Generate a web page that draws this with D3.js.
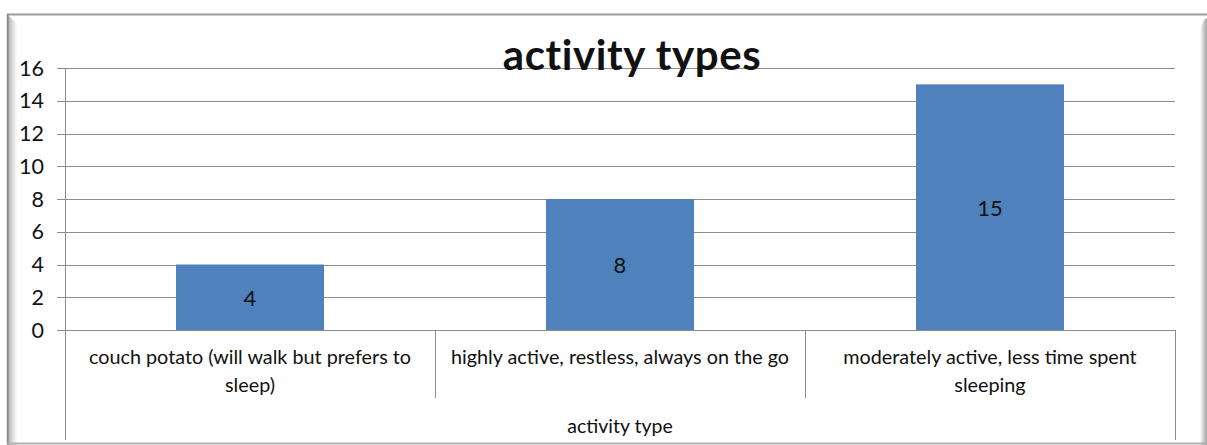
<!DOCTYPE html>
<html>
<head>
<meta charset="utf-8">
<script src="https://cdn.jsdelivr.net/npm/d3@7"></script>
<style>
  html, body { margin: 0; padding: 0; background: #fff; }
  svg { display: block; }
  text { font-family: Lato, "Open Sans", sans-serif; fill: #111; }
</style>
</head>
<body>
<svg id="chart" width="1207" height="445"></svg>
<script>
// Chart content
const chartTitle = "activity types";
const axisTitle = "activity type";
const categories = [
  ["couch potato (will walk but prefers to", "sleep)"],
  ["highly active, restless, always on the go"],
  ["moderately active, less time spent", "sleeping"]
];
const counts = [4, 8, 15];
const yTicks = [0, 2, 4, 6, 8, 10, 12, 14, 16];

const W = 1207, H = 445;
const svg = d3.select("#chart");

// Frame with a soft shadow on the left and right edges
const defs = svg.append("defs");
const gl = defs.append("linearGradient").attr("id", "shadeL").attr("x1", 0).attr("x2", 1);
gl.append("stop").attr("offset", 0).attr("stop-color", "#9a9a9a");
gl.append("stop").attr("offset", 0.25).attr("stop-color", "#c8c8c8");
gl.append("stop").attr("offset", 1).attr("stop-color", "#ffffff");
const gr = defs.append("linearGradient").attr("id", "shadeR").attr("x1", 0).attr("x2", 1);
gr.append("stop").attr("offset", 0).attr("stop-color", "#ffffff");
gr.append("stop").attr("offset", 0.6).attr("stop-color", "#c4c4c4");
gr.append("stop").attr("offset", 1).attr("stop-color", "#a8a8a8");

svg.append("path")
  .attr("d", "M8,15 L17,24 L17,445 L8,445 Z")
  .attr("fill", "url(#shadeL)");
svg.append("path")
  .attr("d", "M1200,30 L1204,20 L1207,18 L1207,445 L1200,445 Z")
  .attr("fill", "url(#shadeR)");
svg.append("line").attr("x1", 7).attr("x2", W).attr("y1", 14.5).attr("y2", 14.5)
  .attr("stroke", "#9a9a9a").attr("stroke-width", 2);
svg.append("line").attr("x1", 7.5).attr("x2", 7.5).attr("y1", 14).attr("y2", H)
  .attr("stroke", "#8a8a8a").attr("stroke-width", 1.5);
svg.append("line").attr("x1", 7).attr("x2", W).attr("y1", 443.5).attr("y2", 443.5)
  .attr("stroke", "#b0b0b0").attr("stroke-width", 2);

// Plot area
const plotLeft = 65, plotRight = 1175, plotTop = 68, zeroY = 330;
const x = d3.scaleBand().domain(d3.range(categories.length)).range([plotLeft, plotRight]).paddingInner(0).paddingOuter(0);
const y = d3.scaleLinear().domain([0, 16]).range([zeroY, plotTop]);
const barW = x.bandwidth() * 0.4;
const gridColor = "#8c8c8c";

// Horizontal gridlines with short tick stubs left of the axis
svg.append("g").selectAll("line").data(yTicks).join("line")
  .attr("x1", plotLeft - 8).attr("x2", plotRight)
  .attr("y1", d => Math.round(y(d)) + 0.5).attr("y2", d => Math.round(y(d)) + 0.5)
  .attr("stroke", gridColor).attr("stroke-width", 1);

// Tick labels
svg.append("g").selectAll("text").data(yTicks).join("text")
  .attr("x", 44).attr("y", d => y(d))
  .attr("dy", "0.36em")
  .attr("text-anchor", "end")
  .attr("font-size", 21.5)
  .text(d => d);

// Bars
svg.append("g").selectAll("rect").data(counts).join("rect")
  .attr("x", (d, i) => x(i) + (x.bandwidth() - barW) / 2)
  .attr("y", d => y(d))
  .attr("width", barW)
  .attr("height", d => zeroY - y(d))
  .attr("fill", "#4f81bd");

// Value labels centred inside each bar
svg.append("g").selectAll("text").data(counts).join("text")
  .attr("x", (d, i) => x(i) + x.bandwidth() / 2)
  .attr("y", d => (y(d) + zeroY) / 2)
  .attr("dy", "0.4em")
  .attr("text-anchor", "middle")
  .attr("font-size", 22)
  .text(d => d);

// Vertical axis line and the category table below zero
svg.append("line").attr("x1", plotLeft + 0.5).attr("x2", plotLeft + 0.5).attr("y1", plotTop).attr("y2", 440)
  .attr("stroke", gridColor);
svg.append("line").attr("x1", plotRight + 0.5).attr("x2", plotRight + 0.5).attr("y1", zeroY).attr("y2", 440)
  .attr("stroke", gridColor);
svg.append("g").selectAll("line").data(d3.range(1, categories.length)).join("line")
  .attr("x1", i => x(i) + 0.5).attr("x2", i => x(i) + 0.5)
  .attr("y1", zeroY).attr("y2", 398)
  .attr("stroke", gridColor);

// Category labels (wrapped)
const cat = svg.append("g").selectAll("text").data(categories).join("text")
  .attr("text-anchor", "middle")
  .attr("font-size", 19.8);
cat.each(function(lines, i) {
  d3.select(this).selectAll("tspan").data(lines).join("tspan")
    .attr("x", x(i) + x.bandwidth() / 2)
    .attr("y", (d, j) => 364 + j * 28)
    .text(d => d);
});

// Axis title
svg.append("text")
  .attr("x", (plotLeft + plotRight) / 2).attr("y", 433)
  .attr("text-anchor", "middle")
  .attr("font-size", 19.5)
  .text(axisTitle);

// Chart title
svg.append("text")
  .attr("x", 632).attr("y", 70)
  .attr("text-anchor", "middle")
  .attr("font-size", 42)
  .attr("letter-spacing", 0.6)
  .attr("font-weight", "bold")
  .text(chartTitle);
</script>
</body>
</html>
